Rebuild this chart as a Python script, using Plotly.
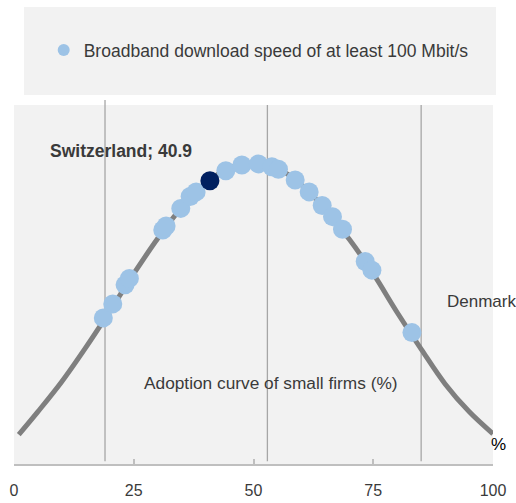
import plotly.graph_objects as go

# Adoption curve of small firms (%)
curve_x = [1, 5, 10, 15, 20, 25, 30, 35, 40, 45, 50, 55, 60, 65, 70, 75, 80, 85, 90, 95, 100]
curve_y = [8.2, 14.6, 23.0, 32.5, 42.6, 53.0, 62.8, 71.5, 78.2, 82.5, 83.8, 82.3, 77.8, 70.8, 62.6, 53.0, 42.2, 32.0, 22.3, 14.6, 8.4]

# Countries: broadband download speed of at least 100 Mbit/s (position on curve)
country_x = [18.65, 20.62, 23.19, 24.09, 31.06, 31.75, 34.82, 36.77, 38.02,
             44.22, 47.57, 51.03, 53.83, 55.21, 58.70, 61.62, 64.34, 66.49,
             68.58, 73.32, 74.72, 83.08]
country_y = [40.7, 44.6, 49.9, 51.7, 65.2, 66.3, 71.2, 74.5, 75.8,
             81.7, 83.3, 83.6, 82.8, 82.1, 79.1, 75.8, 72.0, 68.9,
             65.4, 56.4, 54.0, 36.6]

highlight_name = "Switzerland"
highlight_x = [40.9]
highlight_y = [78.9]

reference_lines = [19.0, 52.9, 85.0]
tick_vals = [0, 25, 50, 75, 100]
tick_text = ["0", "25", "50", "75", "100"]

series_name = "Broadband download speed of at least 100 Mbit/s"
FONT = "Liberation Sans, Arial, sans-serif"
TXT = "#3a3a3a"

fig = go.Figure()
fig.add_trace(go.Scatter(x=curve_x, y=curve_y, mode="lines", line=dict(color="#7f7f7f", width=5, shape="spline"),
                         showlegend=False, hoverinfo="skip"))
fig.add_trace(go.Scatter(x=country_x, y=country_y, mode="markers", name=series_name,
                         marker=dict(color="#9dc3e6", size=19, line=dict(width=0))))
fig.add_trace(go.Scatter(x=highlight_x, y=highlight_y, mode="markers", name=highlight_name, showlegend=False,
                         marker=dict(color="#002060", size=19, line=dict(width=0))))

shapes = [dict(type="rect", xref="paper", yref="paper", x0=0.0209, x1=1.0063, y0=1.028, y1=1.273,
               fillcolor="#f2f2f2", line=dict(width=0), layer="below")]
for i, v in enumerate(reference_lines):
    shapes.append(dict(type="line", xref="x", yref="paper", x0=v, x1=v, y0=0.008, y1=1.014 if i == 0 else 1.0,
                       line=dict(color="#a6a6a6", width=1.3), layer="below"))

annotations = [
    dict(x=22.25, y=87.2, xref="x", yref="y", text="<b>Switzerland; 40.9</b>", showarrow=False,
         font=dict(size=17.5, color=TXT, family=FONT)),
    dict(x=53.6, y=22.6, xref="x", yref="y", text="Adoption curve of small firms (%)", showarrow=False,
         font=dict(size=17.3, color=TXT, family=FONT)),
    dict(x=90.0, y=45.2, xref="x", yref="y", text="Denmark", showarrow=False, xanchor="left",
         font=dict(size=17, color=TXT, family=FONT)),
    dict(x=1.031, y=0.022, xref="paper", yref="paper", text="%", showarrow=False,
         font=dict(size=17, color="#000000", family=FONT)),
]

fig.update_layout(
    width=516, height=503,
    margin=dict(l=14, r=23, t=105, b=39, autoexpand=False),
    paper_bgcolor="white", plot_bgcolor="#f2f2f2",
    font=dict(family=FONT, color=TXT, size=16),
    showlegend=True,
    legend=dict(x=0.062, y=1.153, xanchor="left", yanchor="middle", bgcolor="rgba(0,0,0,0)",
                font=dict(size=17.5, color=TXT, family=FONT), itemwidth=30, itemsizing="constant"),
    xaxis=dict(range=[0, 100], tickvals=tick_vals, ticktext=tick_text, showgrid=False, zeroline=False,
               showline=True, linecolor="#bfbfbf", linewidth=1.5, ticks="inside", ticklen=5,
               tickcolor="#bfbfbf", tickwidth=1.5, tickfont=dict(size=16, color=TXT, family=FONT),
               ticklabelstandoff=11, automargin=False),
    yaxis=dict(range=[0, 100], visible=False, showgrid=False, zeroline=False, automargin=False),
    shapes=shapes, annotations=annotations,
)

fig.write_html("out.html", config={"displayModeBar": False},
               post_script="document.body.style.margin='0';document.body.style.overflow='hidden';")
